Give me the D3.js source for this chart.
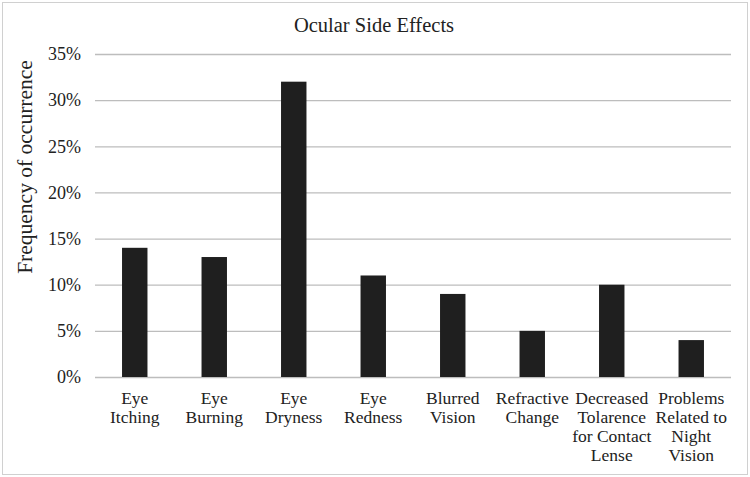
<!DOCTYPE html>
<meta charset="utf-8">
<style>
body { margin: 0; background: white; }
svg text, svg tspan { font-family: "Liberation Serif", "DejaVu Serif", serif !important; fill: #222; }
</style>
<body>
<script src="https://d3js.org/d3.v7.min.js"></script>
<script>

// chart size
const width = 750
const height = 477
const serif = '"Liberation Serif", "DejaVu Serif", serif'

// data
const categories = [
  ['Eye', 'Itching'],
  ['Eye', 'Burning'],
  ['Eye', 'Dryness'],
  ['Eye', 'Redness'],
  ['Blurred', 'Vision'],
  ['Refractive', 'Change'],
  ['Decreased', 'Tolarence', 'for Contact', 'Lense'],
  ['Problems', 'Related to', 'Night', 'Vision']
]
const values = [0.14, 0.13, 0.32, 0.11, 0.09, 0.05, 0.10, 0.04]
const yTicks = [0, 0.05, 0.10, 0.15, 0.20, 0.25, 0.30, 0.35]

const margin = {top: 54, right: 19, bottom: 100, left: 95}

const svg = d3.select('body')
  .append('svg')
  .attr('width', width)
  .attr('height', height)
  .attr('font-family', serif)

// outer frame
svg.append('rect')
  .attr('x', 2.5).attr('y', 2.5)
  .attr('width', width - 5).attr('height', height - 5)
  .attr('fill', 'white')
  .attr('stroke', '#d0d0d0')

const x = d3.scaleBand()
  .domain(d3.range(values.length))
  .range([margin.left, width - margin.right])
  .paddingInner(0.68)
  .paddingOuter(0.34)

const y = d3.scaleLinear()
  .domain([0, 0.35])
  .range([height - margin.bottom, margin.top])

// gridlines + tick labels
const yAxis = svg.append('g')
  .attr('transform', `translate(${margin.left},0)`)
  .call(d3.axisLeft(y)
    .tickValues(yTicks)
    .tickFormat(d3.format('.0%'))
    .tickSize(-(width - margin.left - margin.right))
    .tickPadding(14))
  .attr('font-family', serif)
  .attr('font-size', 18)
yAxis.select('.domain').remove()
yAxis.selectAll('line').attr('stroke', '#bdbdbd').attr('stroke-width', 1.3)
yAxis.selectAll('text')
  .attr('font-family', serif)
  .attr('font-size', 18)
  .attr('fill', '#222')

// bars
svg.append('g')
  .selectAll('rect')
  .data(values)
  .join('rect')
  .attr('x', (d, i) => x(i))
  .attr('width', x.bandwidth())
  .attr('y', d => y(d))
  .attr('height', d => y(0) - y(d))
  .attr('fill', '#1f1f1f')

// category labels
const labels = svg.append('g')
  .attr('font-family', serif)
  .attr('font-size', 17.5)
  .selectAll('text')
  .data(categories)
  .join('text')
  .attr('text-anchor', 'middle')
  .attr('transform', (d, i) => `translate(${x(i) + x.bandwidth() / 2},${y(0) + 27})`)
labels.selectAll('tspan')
  .data(d => d)
  .join('tspan')
  .attr('x', 0)
  .attr('y', (d, i) => i * 19)
  .text(d => d)

// title
svg.append('text')
  .attr('x', 374)
  .attr('y', 32)
  .attr('text-anchor', 'middle')
  .attr('font-size', 20.5)
  .text('Ocular Side Effects')

// y axis title
svg.append('text')
  .attr('transform', 'translate(32,167) rotate(-90)')
  .attr('text-anchor', 'middle')
  .attr('font-size', 21.5)
  .text('Frequency of occurrence')

</script>
</body>
</html>
